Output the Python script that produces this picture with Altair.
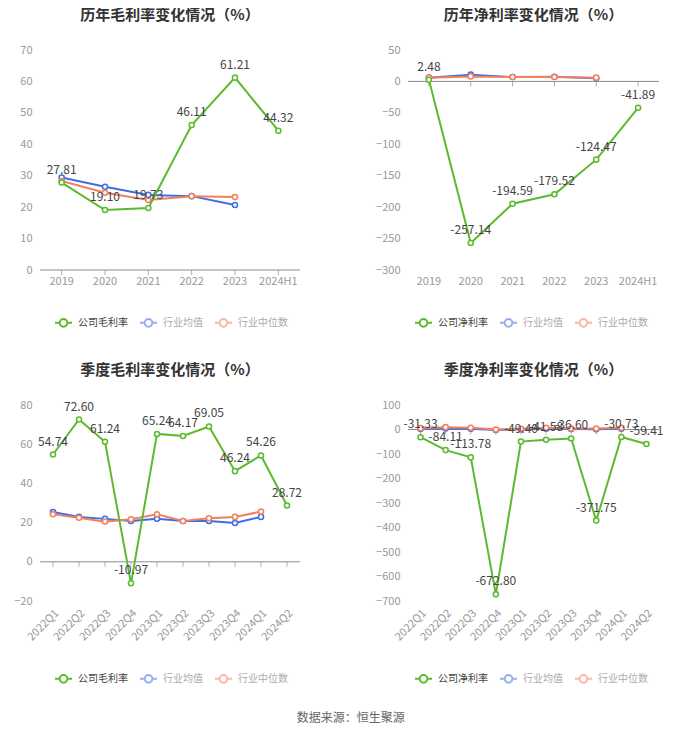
import altair as alt
import pandas as pd

GREEN = "#5cba2e"
BLUE = "#3d6fe0"
ORANGE = "#f2805f"
FONT = "Noto Sans CJK SC"

years = ["2019", "2020", "2021", "2022", "2023", "2024H1"]
quarters = ["2022Q1", "2022Q2", "2022Q3", "2022Q4", "2023Q1", "2023Q2",
            "2023Q3", "2023Q4", "2024Q1", "2024Q2"]

# annual gross margin
y_gm_company = [27.81, 19.10, 19.73, 46.11, 61.21, 44.32]
y_gm_mean = [29.4, 26.5, 23.9, 23.5, 20.7]
y_gm_median = [28.3, 24.6, 22.3, 23.5, 23.2]
# annual net margin
y_nm_company = [2.48, -257.14, -194.59, -179.52, -124.47, -41.89]
y_nm_mean = [6.0, 10.8, 7.0, 7.5, 5.0]
y_nm_median = [6.0, 8.0, 7.0, 7.0, 6.0]
# quarterly gross margin
q_gm_company = [54.74, 72.60, 61.24, -10.97, 65.24, 64.17, 69.05, 46.24, 54.26, 28.72]
q_gm_mean = [25.4, 22.9, 21.9, 20.8, 22.0, 20.8, 20.8, 19.8, 22.9]
q_gm_median = [24.2, 22.5, 20.5, 21.7, 24.2, 20.8, 22.2, 22.9, 25.6]
# quarterly net margin
q_nm_company = [-31.33, -84.11, -113.78, -672.80, -49.40, -41.58, -36.60, -371.75, -30.73, -59.41]
q_nm_mean = [2.0, 4.0, 3.0, -2.0, 1.0, 3.0, 2.0, 1.0, 3.0]
q_nm_median = [5.5, 9.5, 7.0, 0.0, 3.0, 7.0, 4.0, 4.0, 7.0]

LEGEND_PATH = ("M-1,0L-0.45,0M0.45,0L1,0M0.45,0A0.45,0.45,0,1,1,-0.45,0"
               "A0.45,0.45,0,1,1,0.45,0Z")


def panel(periods, company_name, company, mean, median, title, domain, ticks,
          width, height, rotate, legend_x, legend_y, y_extent):
    rows = []
    for p, v in zip(periods, company):
        rows.append({"period": p, "series": company_name, "value": v, "lab": f"{v:.2f}"})
    for p, v in zip(periods, mean):
        rows.append({"period": p, "series": "行业均值", "value": v, "lab": ""})
    for p, v in zip(periods, median):
        rows.append({"period": p, "series": "行业中位数", "value": v, "lab": ""})
    df = pd.DataFrame(rows)
    order = [company_name, "行业均值", "行业中位数"]

    color = alt.Color(
        "series:N",
        scale=alt.Scale(domain=order, range=[GREEN, BLUE, ORANGE]),
        legend=alt.Legend(
            orient="none", legendX=legend_x, legendY=legend_y,
            direction="horizontal", title=None,
            symbolType=LEGEND_PATH, symbolSize=289, symbolStrokeWidth=2,
            symbolFillColor="white",
            labelFontSize=10, labelFont=FONT,
            labelColor={"expr": f"datum.value == '{company_name}' ? '#444444' : '#aaaaaa'"},
            symbolOpacity={"expr": f"datum.value == '{company_name}' ? 1 : 0.55"},
            columnPadding=8, labelOffset=5,
        ),
    )
    x_axis = alt.Axis(labelAngle=-45 if rotate else 0, domain=False, ticks=False,
                      grid=False, labelColor="#999999", labelFontSize=11,
                      labelPadding=6 if rotate else 5)
    y_axis = alt.Axis(values=ticks, domain=False, ticks=False, gridColor="#ebebeb",
                      labelColor="#999999", labelFontSize=11, labelPadding=8,
                      minExtent=y_extent)
    y_scale = alt.Scale(domain=domain, nice=False, zero=False)
    x = alt.X("period:N", sort=periods, title=None, axis=x_axis)
    y = alt.Y("value:Q", title=None, scale=y_scale, axis=y_axis)
    y0 = alt.Y(datum=0, title=None, scale=y_scale, axis=y_axis)

    base = alt.Chart(df)
    company_only = base.transform_filter(alt.datum.series == company_name)
    zero = company_only.transform_aggregate(n="count()").mark_rule(
        color="#8c8c8c", strokeWidth=1
    ).encode(y=y0)
    tick = company_only.mark_tick(
        orient="vertical", size=5, thickness=1, yOffset=2.5, color="#8c8c8c"
    ).encode(x=x, y=y0)

    def line(s):
        return base.transform_filter(alt.datum.series == s).mark_line(
            strokeWidth=2,
            point=alt.OverlayMarkDef(filled=False, fill="white", size=26, strokeWidth=1.5),
        ).encode(x=x, y=y, color=color)

    text = company_only.mark_text(
        dy=-6, baseline="bottom", fontSize=12, color="#444444", font=FONT
    ).encode(x=x, y=y, text="lab:N")

    return alt.layer(zero, tick, line("行业均值"), line("行业中位数"), line(company_name), text).properties(
        width=width, height=height,
        title=alt.TitleParams(title, fontSize=15, font=FONT, fontWeight="bold",
                              color="#333333", anchor="middle", offset=21),
    )


p1 = panel(years, "公司毛利率", y_gm_company, y_gm_mean, y_gm_median,
           "历年毛利率变化情况（%）", [0, 70], list(range(0, 71, 10)),
           260, 220, False, 14, 263, 32)
p2 = panel(years, "公司净利率", y_nm_company, y_nm_mean, y_nm_median,
           "历年净利率变化情况（%）", [-300, 50], list(range(-300, 51, 50)),
           251, 220, False, 6, 263, 40)
p3 = panel(quarters, "公司毛利率", q_gm_company, q_gm_mean, q_gm_median,
           "季度毛利率变化情况（%）", [-20, 80], list(range(-20, 81, 20)),
           260, 196, True, 14, 264, 32)
p4 = panel(quarters, "公司净利率", q_nm_company, q_nm_mean, q_nm_median,
           "季度净利率变化情况（%）", [-700, 100], list(range(-700, 101, 100)),
           251, 196, True, 6, 264, 40)

chart = alt.concat(p1, p2, p3, p4, columns=2, spacing={"row": 32, "column": 66}).resolve_scale(
    color="independent", x="independent", y="independent"
).resolve_legend(color="independent").properties(
    padding={"left": 0, "top": 0, "right": 0, "bottom": 0},
    title=alt.TitleParams("数据来源：恒生聚源", orient="bottom", anchor="middle",
                          fontSize=12, font=FONT, color="#666666",
                          fontWeight="normal", offset=26, dx=15),
).configure(font=FONT).configure_view(stroke=None)

chart.save("out.html", embed_options={"renderer": "svg", "actions": False})
